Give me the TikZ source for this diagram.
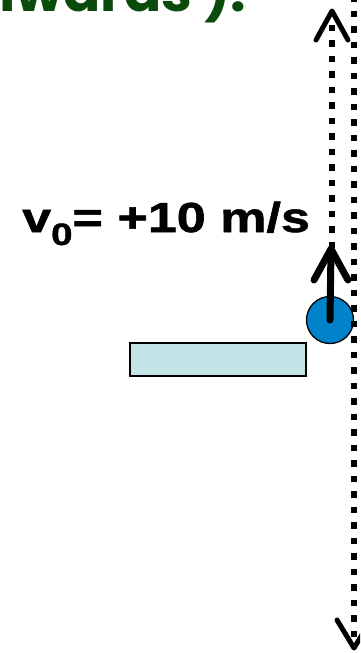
\documentclass[tikz,border=0pt]{standalone}
\usepackage{fontspec}
\setmainfont{Liberation Sans}
\newfontfamily\gfont{Poppins}
\newfontfamily\lblfont{Liberation Sans Bold}[FakeBold=1.2]
\definecolor{ballblue}{HTML}{0083CA}
\definecolor{shelf}{HTML}{C4E5E7}
\definecolor{dgreen}{HTML}{0A4A0A}
\begin{document}
\begin{tikzpicture}[x=1pt,y=-1pt,
  dotline/.style={line width=6.5pt,dash pattern=on 6.5pt off 9pt},
  barb/.style={line width=5pt,line cap=round,line join=round},
  vel/.style={line width=7pt,line cap=round,line join=round}]
\useasboundingbox (0,0) rectangle (360,653);
\clip (0,0) rectangle (360,653);
% top text (cropped)
\node[anchor=base east,inner sep=0pt,text=dgreen,font=\gfont\bfseries\fontsize{55}{55}\selectfont] (title) at (246,12) {nwards ).};
% shelf
\node[draw=black,line width=1.3pt,fill=shelf,minimum width=176pt,minimum height=33pt,inner sep=0pt] (shelfbox) at (218,359.5) {};
% ball
\node[circle,draw=black,line width=1.3pt,fill=ballblue,minimum size=47pt,inner sep=0pt] (ball) at (330,320) {};
% coordinates
\coordinate (ltop) at (332,11);
\coordinate (lbot) at (332,248);
\coordinate (rtop) at (354,-5);
\coordinate (rbot) at (354,648);
% left dotted line with up arrow
\draw[dotline] (lbot) -- (ltop);
\draw[barb] (316,40) -- (ltop) -- (348,40);
% right dotted line with down arrow
\draw[dotline] (rtop) -- (rbot);
\draw[barb] (337,620) -- (rbot) -- (371,620);
% velocity arrow
\coordinate (vtip) at (331,249);
\draw[vel] (ball.center) -- (vtip);
\draw[vel] (314,280) -- (vtip) -- (348,280);
% label
\node[anchor=base west,inner sep=0pt,font=\lblfont\fontsize{42}{42}\selectfont] (v0) at (22,232)
  {\scalebox{1.24}[1]{v\raisebox{-13pt}{\fontsize{31}{31}\selectfont 0}= +10 m/s}};
\end{tikzpicture}
\end{document}
